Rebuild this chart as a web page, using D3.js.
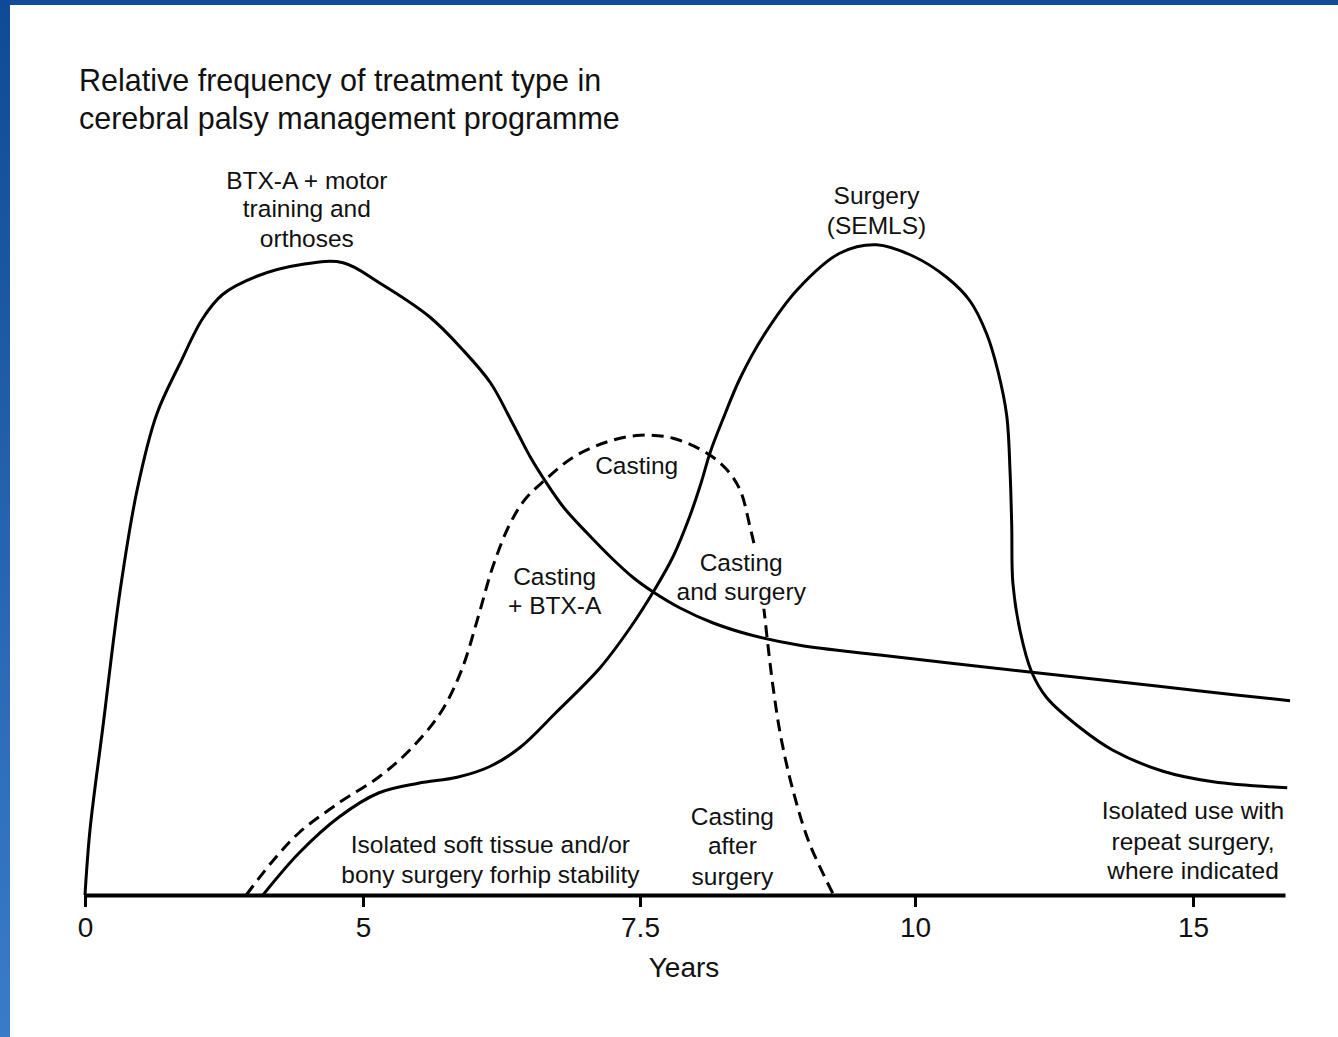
<!DOCTYPE html>
<html>
<head>
<meta charset="utf-8">
<script src="https://cdn.jsdelivr.net/npm/d3@7"></script>
<style>
  html, body { margin: 0; padding: 0; background: #ffffff; }
  svg { display: block; }
  text { font-family: "Liberation Sans", Arial, Helvetica, sans-serif; fill: #111; }
</style>
</head>
<body>
<svg id="chart" width="1338" height="1037"></svg>
<script>
// ---------------- data (years, relative frequency 0-100) ----------------
const titleLines = ["Relative frequency of treatment type in", "cerebral palsy management programme"];
const xTickValues = [0, 5, 7.5, 10, 15];
const xTickLabels = ["0", "5", "7.5", "10", "15"];
const xAxisLabel = "Years";

// BTX-A + motor training and orthoses (solid)
const btxYears  = [0, 0.09, 0.32, 0.63, 0.94, 1.29, 1.71, 2.12, 2.48, 3.09, 3.92, 4.64, 5.15, 5.60, 5.90, 6.15, 6.35, 6.51, 6.64, 6.81, 7.02, 7.26, 7.44, 7.62, 7.86, 8.16, 8.50, 8.95, 9.68, 12.10, 13.33, 15.13, 16.74];
const btxValues = [0, 8.7, 22.3, 40.5, 54.1, 64.1, 70.9, 76.9, 80.1, 82.5, 84.1, 84.3, 81.6, 77.1, 72.7, 68.3, 62.9, 58.4, 55.3, 51.7, 48.3, 44.7, 42.3, 40.4, 38.3, 36.3, 34.7, 33.3, 32.0, 29.7, 28.7, 27.2, 25.9];

// Surgery (SEMLS) / isolated surgery (solid)
const surgeryYears  = [3.20, 3.85, 4.57, 5.14, 5.50, 5.85, 6.14, 6.42, 6.74, 7.14, 7.41, 7.62, 7.80, 7.95, 8.05, 8.14, 8.25, 8.41, 8.62, 8.93, 9.32, 9.65, 9.98, 10.58, 10.99, 11.29, 11.49, 11.65, 11.71, 11.74, 11.76, 11.89, 12.10, 12.37, 12.97, 13.56, 14.46, 15.36, 16.69];
const surgeryValues = [0, 5.6, 10.4, 13.6, 14.9, 15.7, 17.1, 19.7, 24.3, 30.3, 35.6, 40.4, 45.1, 50.4, 54.7, 59.1, 63.3, 68.9, 74.5, 80.7, 85.6, 86.7, 85.2, 82.3, 79.2, 74.8, 69.9, 63.9, 56.4, 49.1, 41.6, 35.2, 29.7, 26.3, 22.3, 19.3, 16.5, 15.1, 14.3];

// Casting (dashed)
const castingYears  = [2.90, 3.35, 3.85, 4.57, 5.14, 5.42, 5.70, 5.89, 6.04, 6.17, 6.32, 6.46, 6.64, 6.90, 7.20, 7.50, 7.80, 8.11, 8.29, 8.41, 8.50, 8.56, 8.62, 8.66, 8.71, 8.78, 8.89, 9.04, 9.26];
const castingValues = [0, 4.3, 8.3, 12.3, 15.7, 19.3, 24.3, 30.0, 37.1, 43.7, 49.3, 52.7, 55.3, 58.4, 60.4, 61.3, 60.9, 58.9, 56.7, 54.0, 49.1, 45.1, 38.9, 33.7, 27.7, 21.1, 14.0, 6.9, 0];

// annotation texts, anchored in data space (year, value) for each line
const annotations = [
  { lines: ["BTX-A + motor", "training and", "orthoses"], year: 3.99, values: [95.3, 91.5, 87.5] },
  { lines: ["Surgery", "(SEMLS)"], year: 9.65, values: [93.3, 89.3] },
  { lines: ["Casting"], year: 7.47, values: [57.3] },
  { lines: ["Casting", "+ BTX-A"], year: 6.73, values: [42.5, 38.6] },
  { lines: ["Casting", "and surgery"], year: 8.42, values: [44.4, 40.5], knockout: true },
  { lines: ["Isolated soft tissue and/or", "bony surgery forhip stability"], year: 6.15, values: [6.7, 2.7] },
  { lines: ["Casting", "after", "surgery"], year: 8.34, values: [10.5, 6.6, 2.5] },
  { lines: ["Isolated use with", "repeat surgery,", "where indicated"], year: 15.0, values: [11.3, 7.2, 3.3] }
];

// ---------------- layout ----------------
const W = 1338, H = 1037;
const svg = d3.select("#chart");

// scan border (blue frame on top and left)
const defs = svg.append("defs");
const grad = defs.append("linearGradient").attr("id", "leftBlue")
  .attr("x1", 0).attr("y1", 0).attr("x2", 0).attr("y2", 1);
grad.append("stop").attr("offset", "0%").attr("stop-color", "#0f4a96");
grad.append("stop").attr("offset", "100%").attr("stop-color", "#3a7cc8");
svg.append("rect").attr("x", 0).attr("y", 0).attr("width", W).attr("height", H).attr("fill", "#ffffff");
svg.append("rect").attr("x", 0).attr("y", 0).attr("width", W).attr("height", 5).attr("fill", "#124b97");
svg.append("rect").attr("x", 0).attr("y", 0).attr("width", 10).attr("height", H).attr("fill", "url(#leftBlue)");

// scales: tick positions are evenly spaced although values are 0,5,7.5,10,15
const x = d3.scaleLinear()
  .domain([0, 5, 7.5, 10, 15, 16.65])
  .range([85, 363, 640, 915, 1193, 1285]);
const y = d3.scaleLinear().domain([0, 100]).range([895, 145]);

// title
svg.append("g").selectAll("text").data(titleLines).join("text")
  .attr("x", 79)
  .attr("y", (d, i) => 80 + i * 38)
  .attr("dominant-baseline", "central")
  .style("font-size", "30.5px")
  .text(d => d);

// curves
const line = d3.line()
  .x(d => x(d[0]))
  .y(d => y(d[1]))
  .curve(d3.curveCatmullRom.alpha(0.5));

const series = [
  { years: btxYears, values: btxValues, dash: null },
  { years: surgeryYears, values: surgeryValues, dash: null },
  { years: castingYears, values: castingValues, dash: "12,7" }
];
const toPts = s => s.years.map((yr, i) => [yr, s.values[i]]);

// layers: dashed curve, label knockouts, solid curves, axes, texts
const gDashed = svg.append("g");
const gKnock = svg.append("g");
const gSolid = svg.append("g");

gDashed.selectAll("path").data(series.filter(s => s.dash)).join("path")
  .attr("d", s => line(toPts(s)))
  .attr("fill", "none")
  .attr("stroke", "#000")
  .attr("stroke-width", 3)
  .attr("stroke-dasharray", s => s.dash);

gSolid.selectAll("path").data(series.filter(s => !s.dash)).join("path")
  .attr("d", s => line(toPts(s)))
  .attr("fill", "none")
  .attr("stroke", "#000")
  .attr("stroke-width", 3)
  .attr("stroke-linejoin", "round");

// axes
const xAxis = d3.axisBottom(x)
  .tickValues(xTickValues)
  .tickFormat((d, i) => xTickLabels[i])
  .tickSizeInner(12)
  .tickSizeOuter(0)
  .tickPadding(10);
const gx = svg.append("g").attr("transform", `translate(0,${y(0)})`).call(xAxis);
gx.select(".domain").attr("stroke", "#000").attr("stroke-width", 4);
gx.selectAll(".tick line").attr("stroke", "#000").attr("stroke-width", 3);
gx.selectAll(".tick text")
  .attr("fill", "#111")
  .style("font-family", '"Liberation Sans", Arial, sans-serif')
  .style("font-size", "28px");

const yAxis = d3.axisLeft(y).tickValues([]).tickSizeOuter(0);
const gy = svg.append("g").attr("transform", "translate(-3,0)").call(yAxis);
gy.select(".domain").attr("stroke", "#000").attr("stroke-width", 3);

svg.append("text")
  .attr("x", x(7.9)).attr("y", 967)
  .attr("text-anchor", "middle")
  .attr("dominant-baseline", "central")
  .style("font-size", "28px")
  .text(xAxisLabel);

// annotations
const ga = svg.append("g");
annotations.forEach(a => {
  const g = ga.append("g");
  a.lines.forEach((t, i) => {
    g.append("text")
      .attr("x", x(a.year))
      .attr("y", y(a.values[i]))
      .attr("text-anchor", "middle")
      .attr("dominant-baseline", "central")
      .style("font-size", "24.5px")
      .text(t);
  });
  if (a.knockout) {
    const bb = g.node().getBBox();
    gKnock.append("rect")
      .attr("x", bb.x - 2).attr("y", bb.y - 4)
      .attr("width", bb.width + 4).attr("height", bb.height + 8)
      .attr("fill", "#ffffff");
  }
});
</script>
</body>
</html>
